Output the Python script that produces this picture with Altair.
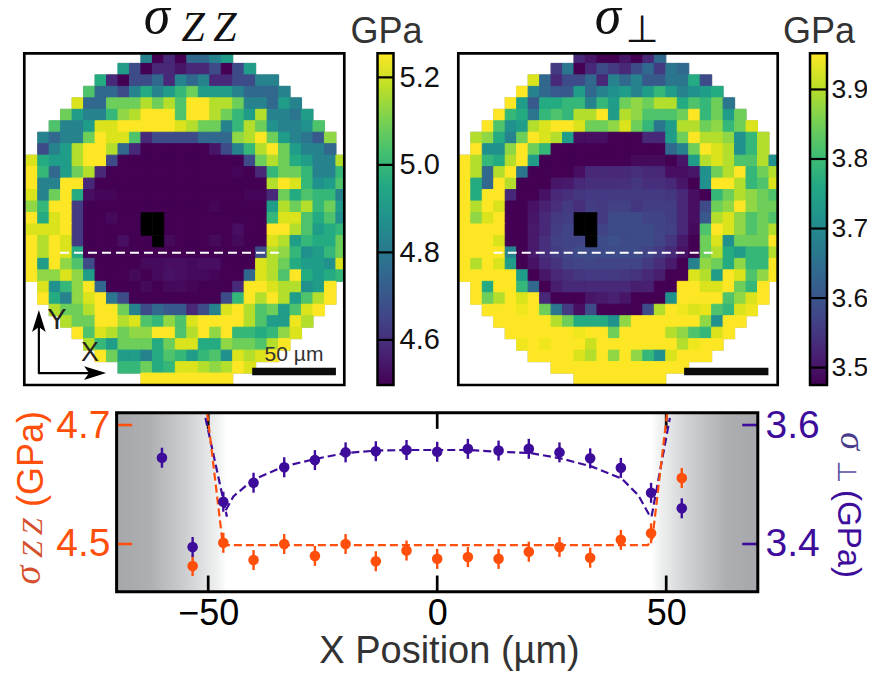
import altair as alt
import pandas as pd

# ---- heat map levels (colour fraction in ninths); None = black masked cell ----
ZZ_ROWS = [
 [4,0,1,0,3,3,4,5],
 [5,2,0,1,1,.5,1,1,2,0,2,5],
 [5.5,1,0,2,2,3,1,4,3,4,1,1,2,2,4,4],
 [6.5,3,3,2,4,5.5,4,5,6,7,5,5,5,4,3,3,3,4],
 [8.5,3,3,7,7,7,8,7,8,6.5,9,9,8,8,7,4,4,3,5,4],
 [7,5,4,4,6,7.5,8,9,9,9,6.5,9,9,8,7,6,5,8,4,4,3.5,5],
 [6.5,4,4,5,8.5,8.5,9,9,9,9,9,8.5,8,7,7,4,6,8,7,4.5,4,4,4.5,6.5],
 [4,3,4,4,7,9,8.5,8.5,6.5,1,2,2,2,2,3,3,3,7.5,8,9,7,5,4,3.5,2.5,7.5],
 [2,4,5,8,9,9,8,3,1,0,0,0,0,0,0,.5,2,4,6,8,9,7,5,4,4,3],
 [8.5,5.5,5,5,8,9,9,2,0,0,0,0,0,0,0,0,0,0,0,2,7,8,7,5.5,5,4,4,8],
 [9,6,3,5,7,8,1,0,0,0,0,0,0,0,0,0,0,0,.1,0,1,6,7,7,6,4,4,6],
 [9,4,4,9,9,1,0,0,0,0,0,0,0,0,0,0,0,0,0,0,0,8,9,8.5,6,4.5,5,6.5],
 [8.5,4,7,9,5.5,.3,.1,.1,0,0,0,0,0,0,0,0,0,0,0,.1,.1,1,7,5.5,6.5,6,6,4],
 [7.5,6,9,9,1.5,0,0,0,0,0,0,0,0,0,0,0,.1,0,0,0,0,5,8,7,8,6,7,5],
 [9,5.5,8.5,9,1.5,0,0,.2,0,0,None,None,0,0,0,0,0,0,0,0,0,6,8.5,8.5,6.5,5.5,6.5,4.5],
 [8.5,8.5,8.5,9,1.5,0,0,0,0,0,None,None,0,0,0,0,0,0,.3,0,0,9,9,8,6.5,5,5.5,6],
 [9,8,9,8.5,1.5,0,0,0,.3,0,0,None,.2,0,0,0,.2,0,.2,0,0,8.5,8,5,6,5.5,5.5,7],
 [9,8,9,8.5,5.5,0,0,0,0,0,0,0,0,0,0,0,0,0,0,0,2,8,7.5,6,4.5,5,6,7],
 [9,5,9,7.5,6.5,2,0,0,0,0,.2,.2,.3,.3,.2,.3,.3,0,0,0,8.5,8,7,5.5,5,5,4.5,8.5],
 [9,7.5,7.5,8.5,7.5,5,0,0,0,.2,0,.2,.4,.3,.2,.2,.1,0,0,3,8.5,8,6.5,9,5.5,5,5.5,6],
 [8.5,4.5,6,7.5,9,3,0,0,0,.2,0,.2,.2,.1,0,0,0,1,9,9,8.5,8,8,4.5,5,9],
 [9,5.5,4,7.5,8.5,9,3.5,2,0,0,0,0,0,0,0,0,2,6,9,8,9,8,5,6.5,8,9],
 [8,7,7,8,9,9,7,4,2,3,2.5,2.5,1,2,4,8.5,9,8,6.5,7,5,6.5,8.5,9],
 [8,7,7,9,9,8,8.5,6.5,6,7.5,6.5,8.5,9,9,9,9,8,6.5,5,5,8.8,8],
 [9,6.5,8.5,8,7,7.5,7.5,9,9,6.5,8,9,7.5,9,6,6,5.5,6,7.5,8.5],
 [8,6,5,7,7,7,5.5,7,8.5,8.5,5.5,5.5,7.5,7,7,6.5,8,9],
 [9,7,5,5,4,5.5,6.5,6,5,6,6.5,4.5,8.5,8,8.5,9],
 [6,6,7,5.5,6,8.5,8.5,8,7.5,8,9,8.5],
 [9,9,9,9,9,9,9,9],
]
PERP_ROWS = [
 [1,.5,0,0,.5,0,1,3],
 [1.5,3.5,0,1,2,1.5,1,2,3,1.5,3.5,3],
 [8.5,3,1,2,2,3,1,4,3,4,2.5,2.5,3.5,3.5,5.5,2],
 [9,4,3,2.5,2.5,5,3,4,4.5,5,4,5,6,5,4,4.5,5,5.5],
 [9,5,2.5,5.5,5.5,6,6,4,6,5,7,7.5,7,8,8,5.5,6.5,6,7,3.5],
 [9,6,5.5,3.5,6,6.5,6,8,8,9,5,8,7.5,6.5,6.5,6.5,7,9,6,7,5,7],
 [9,6.5,4.5,5,8,8.5,9,9,8.5,7,7,7.5,8.5,7,6,3.5,5,8,8,7,7.5,6,7,8.5],
 [8,7.5,5.5,4,7,9,8.5,8,5,.3,.3,.3,0,0,0,1,1,5,7,9,8,8,7.5,4.5,6,8],
 [9,4.5,4.5,7.5,9,7,6,0,0,0,0,0,0,0,0,0,0,3,4,7,9,8.5,8,4.5,6,8],
 [9,8,6,5.5,8,9,5,0,0,0,0,0,0,0,0,.2,.2,.2,0,.5,5,8,8.5,8,6.5,6.5,8,4.5],
 [9,8,3,8,9,3.5,0,0,0,0,.3,1,1,1,1,1.2,1,1,.3,.3,.5,4.5,7,8,9,6,7,8],
 [9,5.5,3,9,8,0,0,0,.5,.6,1,1.2,1.2,1.2,1.2,1.4,1.2,1.2,1,.5,0,4.5,9,9,8,6,6.5,8.5],
 [9,5.5,9,9,1,0,0,.4,1,1.2,1.4,1.5,1.5,1.5,1.5,1.5,1.5,1.5,1.4,1,.3,0,6,7,8,7.5,7,6.5],
 [9,8,9,8.5,0,0,.4,.8,1.2,1.5,1.2,1.6,1.5,1.7,1.7,1.4,1.6,1.6,1.6,1,.3,2,7,7.5,9,7.5,7,7],
 [9,7.5,8.5,9,0,0,.5,1,1.5,1.6,None,None,1.5,2,2,2,1.8,1.8,1.6,1,.3,2.5,8,8.5,7.5,6.5,7,6.5],
 [9,9,9,9,0,0,.6,1,1.6,1.8,None,None,1.8,2,2,2,2,1.8,1.7,1,.2,6.5,9,8.5,7.5,6.5,7,8],
 [9,9,9,8.5,0,0,.6,1.2,1.7,1.8,1.8,None,2,2.2,2,2,2,1.8,1.4,.6,0,7,8.5,4.5,7,7,7,9],
 [9,9,9,9,4,0,.6,1.2,1.6,1.8,2,2,2,2,2,2,1.8,1.5,1,.4,0,7,8,5.5,5,6,6,8],
 [9,8,9,8.5,5,0,.4,1,1.3,1.7,1.8,1.9,1.8,1.8,1.8,1.8,1.5,1.1,.6,0,4,7.5,7,5.5,7.5,6,6,9],
 [9,9,9,9,9,5,0,.5,1,1.2,1.4,1.5,1.5,1.5,1.4,1.3,1,.7,0,0,8.5,8,5,9,8.5,6.5,7.5,9],
 [9,5.5,9,9,6,3,0,.7,1,1,1,1,1,1,.7,.8,0,0,9,9,8.5,8.5,9,7,6,9],
 [9,7,8,9,8.5,9,1,0,0,0,.5,.6,.8,.5,0,0,0,4.5,9,9,9,9,6.5,7.5,8.5,9],
 [9,9,9,8.8,9,7,3.5,1.5,.3,2,0,0,0,0,2,8,9,8.8,8.5,8.7,6.5,6,8.5,8.8],
 [9,9,9,9,9,8,7,5.5,5.5,5.5,4.5,7.5,9,9,9,9,9,9,7.5,4.5,9,9],
 [9,9,9,9,9,9,8.8,9,9,7,9,9,9,9,8,7.5,6.5,6,8.5,9],
 [8.8,9,8.8,9,9,9,8.3,9,9,9,9,9,9,9,8,8.8,9,9],
 [9,9,9,9,8.5,8,9,7.5,9,7.5,6,4.5,8.5,9,9,9],
 [9,9,9,9,9,9,9,9,9,9,9,9],
 [9,9,9,9,9,9,9,9],
]

ZZ_RANGE = [4.497, 5.255]
PERP_RANGE = [3.475, 3.952]
ZZ_TICKS = [4.6, 4.8, 5.0, 5.2]
PERP_TICKS = [3.5, 3.6, 3.7, 3.8, 3.9]

# ---- line profile ----
X_ZZ = [-53.4,-46.7,-40.1,-33.4,-26.7,-20.0,-13.4,-6.7,0,6.7,13.4,20.0,26.7,33.4,40.1,46.7,53.4]
V_ZZ = [4.463,4.502,4.473,4.500,4.480,4.500,4.471,4.489,4.475,4.478,4.475,4.487,4.495,4.477,4.507,4.518,4.611]
X_PERP = [-60.1] + X_ZZ
V_PERP = [3.545,3.395,3.471,3.503,3.529,3.541,3.554,3.556,3.558,3.555,3.560,3.557,3.560,3.554,3.544,3.528,3.486,3.460]
ERR = 0.0168
FIT_ZZ_X = [-50.2,-46.8,46,47,50.2]
FIT_ZZ_V = [4.72,4.498,4.498,4.51,4.72]
FIT_PERP_X = [-50.6,-45.9,-46.3,-44.5,-40.2,-33.6,-26.6,-19.9,-13.2,-6.6,0,6.8,13.4,20.3,26.9,33.8,40.3,43.9,46.5,46.8,50.8]
FIT_PERP_V = [3.612,3.446,3.455,3.480,3.508,3.530,3.543,3.553,3.557,3.558,3.558,3.558,3.555,3.553,3.544,3.530,3.510,3.482,3.446,3.446,3.612]
X_TICKS = [-50, 0, 50]

ORANGE = "#ff4f0a"
PURPLE = "#3d0c9a"
FONT = "Liberation Sans"
SERIF = "Liberation Serif"
VIRIDIS = ["#440154","#482475","#414487","#355f8d","#2a788e","#21918c","#22a884","#44bf70","#7ad151","#bddf26","#fde725"]

W, H = 859, 667
OFF = 8  # page margin


def px(*vals):
    return [v - OFF for v in vals]


def scale(domain, rng):
    return alt.Scale(domain=domain, range=rng, clamp=True, nice=False, zero=False)


def pos(x0, sx, y0, sy, x1=None, y1=None, yaxis=None, xaxis=None):
    enc = {
        "x": alt.X(f"{x0}:Q", scale=sx, axis=xaxis),
        "y": alt.Y(f"{y0}:Q", scale=sy, axis=yaxis),
    }
    if x1:
        enc["x2"] = alt.X2(x1)
    if y1:
        enc["y2"] = alt.Y2(y1)
    return enc


def text(s, x, y, size, color="#222222", font=FONT, angle=0, italic=False, align="center", baseline="alphabetic"):
    kw = dict(fontSize=size, color=color, font=font, align=align, baseline=baseline)
    if angle:
        kw["angle"] = angle
    if italic:
        kw["fontStyle"] = "italic"
    return alt.Chart(pd.DataFrame({"t": [s]})).mark_text(**kw).encode(
        x=alt.value(x - OFF), y=alt.value(y - OFF), text="t:N")


def cells(rows, rng):
    out = []
    for r, row in enumerate(rows):
        start = (28 - len(row)) // 2
        for i, lev in enumerate(row):
            c = start + i
            v = None if lev is None else rng[0] + lev / 9 * (rng[1] - rng[0])
            out.append({"c0": c, "c1": c + 1, "r0": r, "r1": r + 1, "v": v})
    return pd.DataFrame(out)


def heatmap(rows, rng, cdom, xr, dash_x):
    df = cells(rows, rng)
    sx = scale(cdom, px(*xr))
    sy = scale([0.116, 29.04], px(53.3, 385))
    colr = alt.Scale(scheme="viridis", domain=rng)
    L = []
    L.append(alt.Chart(df).mark_rect(fill="#bdbdbd", stroke="#bdbdbd", strokeWidth=1.2).encode(
        **pos("c0", sx, "r0", sy, "c1", "r1")))
    L.append(alt.Chart(df[df.v.notna()]).mark_rect(strokeWidth=1).encode(
        color=alt.Color("v:Q", scale=colr, legend=None),
        stroke=alt.Stroke("v:Q", scale=colr, legend=None),
        **pos("c0", sx, "r0", sy, "c1", "r1")))
    L.append(alt.Chart(df[df.v.isna()]).mark_rect(fill="black", stroke="black", strokeWidth=0.6).encode(
        **pos("c0", sx, "r0", sy, "c1", "r1")))
    L.append(alt.Chart(pd.DataFrame({"a": [dash_x[0]], "b": [dash_x[1]], "r": [17.5]}))
             .mark_rule(stroke="white", strokeWidth=2, strokeDash=[9, 5]).encode(
        **pos("a", sx, "r", sy, "b")))
    L.append(alt.Chart(pd.DataFrame({"a": [cdom[0]], "b": [cdom[1]], "t": [0.116], "u": [29.04]}))
             .mark_rect(fillOpacity=0, stroke="black", strokeWidth=2.7).encode(
        **pos("a", sx, "t", sy, "b", "u")))
    return L, sx, sy


def colorbar(rng, ticks, xr, labx, labsize):
    sx = scale([0, 1], px(*xr))
    sy = scale(rng, px(385, 53.3))
    stops = [alt.GradientStop(color=c, offset=i / 10) for i, c in enumerate(VIRIDIS)]
    grad = alt.Gradient(gradient="linear", stops=stops, x1=0, x2=0, y1=1, y2=0)
    base = pd.DataFrame({"a": [0], "b": [1], "lo": [rng[0]], "hi": [rng[1]]})
    axis = alt.Axis(orient="right", offset=(labx - OFF) - W, values=ticks, format=".1f", ticks=False,
                    domain=False, grid=False, labels=True, labelFontSize=labsize, labelFont=FONT,
                    labelColor="#111111", labelPadding=0, title=None, labelOverlap=False)
    L = [alt.Chart(base).mark_rect(fill=grad).encode(**pos("a", sx, "lo", sy, "b", "hi", yaxis=axis))]
    tdf = pd.DataFrame({"a": 0, "b": 1, "v": ticks})
    L.append(alt.Chart(tdf).mark_rule(stroke="black", strokeWidth=2.2).encode(**pos("a", sx, "v", sy, "b")))
    L.append(alt.Chart(base).mark_rect(fillOpacity=0, stroke="black", strokeWidth=2.5).encode(
        **pos("a", sx, "lo", sy, "b", "hi")))
    return L


layers = []

# ---- left map ----
m1, sx1, sy1 = heatmap(ZZ_ROWS, ZZ_RANGE, [-0.17, 27.73], [24.3, 344.3], [2.94, 22.1])
layers += m1
# scale bar
layers.append(alt.Chart(pd.DataFrame({"a": [19.7], "b": [27.0], "t": [27.53], "u": [28.2]}))
              .mark_rect(fill="#0c0c0c").encode(**pos("a", sx1, "t", sy1, "b", "u")))
# coordinate arrows
layers.append(alt.Chart(pd.DataFrame({"a": [1.1], "b": [1.1], "t": [22.9], "u": [28.05]}))
              .mark_rule(stroke="black", strokeWidth=2.2).encode(**pos("a", sx1, "t", sy1, None, "u")))
layers.append(alt.Chart(pd.DataFrame({"a": [1.05], "b": [6.2], "t": [28.0]}))
              .mark_rule(stroke="black", strokeWidth=2.2).encode(**pos("a", sx1, "t", sy1, "b")))
STEALTH = "M0,-1 L0.62,1 L0,0.55 L-0.62,1 Z"
layers.append(alt.Chart(pd.DataFrame({"a": [1.1], "t": [23.45]}))
              .mark_point(shape=STEALTH, size=484, filled=True, color="black", opacity=1).encode(**pos("a", sx1, "t", sy1)))
layers.append(alt.Chart(pd.DataFrame({"a": [6.0], "t": [28.0]}))
              .mark_point(shape=STEALTH, size=484, filled=True, color="black", opacity=1, angle=90).encode(**pos("a", sx1, "t", sy1)))
layers.append(text("Y", 57, 320, 29, baseline="middle"))
layers.append(text("X", 90, 353, 27, baseline="middle"))
layers.append(text("50 µm", 294, 355, 21, color="#333333", baseline="middle"))

# ---- right map ----
m2, sx2, sy2 = heatmap(PERP_ROWS, PERP_RANGE, [-0.09, 27.76], [458.3, 777.7], [3.0, 22.1])
layers += m2
layers.append(alt.Chart(pd.DataFrame({"a": [19.6], "b": [26.95], "t": [27.53], "u": [28.2]}))
              .mark_rect(fill="#0c0c0c").encode(**pos("a", sx2, "t", sy2, "b", "u")))

# ---- colour bars ----
layers += colorbar(ZZ_RANGE, ZZ_TICKS, [377.5, 393.5], 399, 29)
layers += colorbar(PERP_RANGE, PERP_TICKS, [810, 827], 831, 26.5)

# ---- titles ----
layers.append(text("σ", 157, 33, 54, color="#111111", font=SERIF, italic=True))
layers.append(text("Z\u2009Z", 209, 41, 42, color="#111111", font=SERIF, italic=True))
layers.append(text("σ", 608, 33, 54, color="#111111", font=SERIF, italic=True))
layers.append(text("⊥", 642, 42, 38, color="#111111", font="DejaVu Sans"))
layers.append(text("GPa", 386.5, 43, 36, color="#333333"))
layers.append(text("GPa", 819, 43, 36, color="#333333"))

# ---- profile panel ----
xs = scale([-70, 70], px(116.6, 757.8))
yl = scale([4.4198, 4.7207], px(591.7, 412.7))
yr = scale([3.3198, 3.6207], px(591.7, 412.7))

for a, b, g in [(-70, -46, [("#a6a7aa", 0), ("#aeafb2", .3), ("#cfd0d2", .65), ("#eff0f0", .92), ("#ffffff", 1)]),
                (46.8, 70, [("#ffffff", 0), ("#eff0f0", .08), ("#cfd0d2", .35), ("#aeafb2", .7), ("#a6a7aa", 1)])]:
    grad = alt.Gradient(gradient="linear", stops=[alt.GradientStop(color=c, offset=o) for c, o in g],
                        x1=0, x2=1, y1=0, y2=0)
    layers.append(alt.Chart(pd.DataFrame({"a": [a], "b": [b], "t": [4.4198], "u": [4.7207]}))
                  .mark_rect(fill=grad).encode(**pos("a", xs, "t", yl, "b", "u")))

# ticks drawn inward
xt = pd.DataFrame({"x": X_TICKS})
xt["a"], xt["b"], xt["c"], xt["d"] = 4.4198, 4.447, 4.6935, 4.7207
layers.append(alt.Chart(xt).mark_rule(stroke="black", strokeWidth=2.7).encode(**pos("x", xs, "a", yl, None, "b")))
layers.append(alt.Chart(xt).mark_rule(stroke="black", strokeWidth=2.7).encode(**pos("x", xs, "c", yl, None, "d")))
layers.append(alt.Chart(pd.DataFrame({"a": -70, "b": -66.6, "v": [4.5, 4.7]}))
              .mark_rule(stroke=ORANGE, strokeWidth=2.6).encode(**pos("a", xs, "v", yl, "b")))
layers.append(alt.Chart(pd.DataFrame({"a": 66.6, "b": 70, "v": [3.4, 3.6]}))
              .mark_rule(stroke=PURPLE, strokeWidth=2.6).encode(**pos("a", xs, "v", yr, "b")))

# fits
fit_p = pd.DataFrame({"x": FIT_PERP_X, "v": FIT_PERP_V, "i": range(len(FIT_PERP_X))})
fit_z = pd.DataFrame({"x": FIT_ZZ_X, "v": FIT_ZZ_V, "i": range(len(FIT_ZZ_X))})
layers.append(alt.Chart(fit_p).mark_line(stroke=PURPLE, strokeWidth=2.2, strokeDash=[8, 4]).encode(
    order="i:Q", **pos("x", xs, "v", yr)))
layers.append(alt.Chart(fit_z).mark_line(stroke=ORANGE, strokeWidth=2.2, strokeDash=[8, 4]).encode(
    order="i:Q", **pos("x", xs, "v", yl)))

# points with error bars
for X, V, sy, col in [(X_ZZ, V_ZZ, yl, ORANGE), (X_PERP, V_PERP, yr, PURPLE)]:
    d = pd.DataFrame({"x": X, "v": V})
    d["lo"] = d.v - ERR
    d["hi"] = d.v + ERR
    layers.append(alt.Chart(d).mark_rule(stroke=col, strokeWidth=2.4).encode(**pos("x", xs, "lo", sy, None, "hi")))
    layers.append(alt.Chart(d).mark_circle(size=112, color=col, opacity=1).encode(**pos("x", xs, "v", sy)))

# frame and axes (labels only; ticks are inward rules above)
left_ax = alt.Axis(orient="left", offset=-(110 - OFF), values=[4.5, 4.7], format=".1f", ticks=False, domain=False,
                   grid=False, labelFontSize=39, labelFont=FONT, labelColor=ORANGE, labelPadding=0, title=None,
                   labelOverlap=False)
right_ax = alt.Axis(orient="right", offset=(765 - OFF) - W, values=[3.4, 3.6], format=".1f", ticks=False, domain=False,
                    grid=False, labelFontSize=39, labelFont=FONT, labelColor=PURPLE, labelPadding=0, title=None,
                    labelOverlap=False)
bottom_ax = alt.Axis(orient="bottom", offset=(596 - OFF) - H, values=X_TICKS, ticks=False, domain=False, grid=False,
                     labelFontSize=36, labelFont=FONT, labelColor="#000000", labelPadding=0, title=None,
                     labelOverlap=False)
frame = pd.DataFrame({"a": [-70], "b": [70], "t": [4.4198], "u": [4.7207]})
layers.append(alt.Chart(frame).mark_rect(fillOpacity=0, stroke="black", strokeWidth=3).encode(
    **pos("a", xs, "t", yl, "b", "u", yaxis=left_ax, xaxis=bottom_ax)))
frame2 = pd.DataFrame({"a": [-70], "b": [70], "t": [3.3198], "u": [3.6207]})
layers.append(alt.Chart(frame2).mark_rect(fillOpacity=0, strokeOpacity=0).encode(
    **pos("a", xs, "t", yr, "b", "u", yaxis=right_ax)))

# axis titles
layers.append(text("X Position (µm)", 449.5, 663, 38, color="#333333"))
layers.append(text("(GPa)", 32, 459, 36, color=ORANGE, angle=270, baseline="middle"))
layers.append(text("Z\u2009Z", 33, 538, 30, color="#d4502e", font=SERIF, italic=True, angle=270, baseline="middle"))
layers.append(text("σ", 29, 575, 38, color="#d4502e", font=SERIF, italic=True, angle=270, baseline="middle"))
layers.append(text("(GPa)", 848, 534, 33, color=PURPLE, angle=90, baseline="middle"))
layers.append(text("σ", 852, 441, 36, color="#4a3a8c", font=SERIF, italic=True, angle=90, baseline="middle"))
layers.append(text("⊥", 846, 472, 26, color="#5a4fa0", font="DejaVu Sans", angle=90, baseline="middle"))

chart = (
    alt.layer(*layers)
    .resolve_scale(x="independent", y="independent", color="independent", stroke="independent")
    .resolve_axis(x="independent", y="independent")
    .properties(width=W, height=H, padding=0, autosize=alt.AutoSizeParams(type="none"))
    .configure_view(stroke=None)
)
chart.save("out.html", embed_options={"renderer": "svg", "actions": False})
